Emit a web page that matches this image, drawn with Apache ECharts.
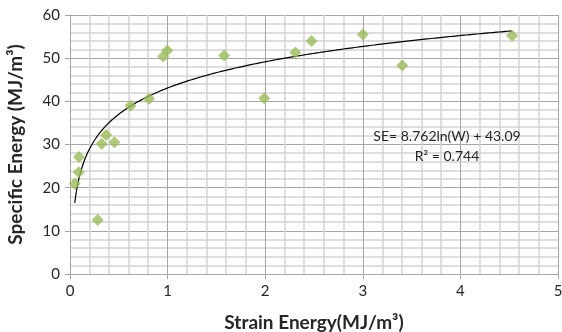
<!DOCTYPE html>
<html>
<head>
<meta charset="utf-8">
<script src="https://cdn.jsdelivr.net/npm/echarts@6/dist/echarts.min.js"></script>
<style>
  html, body { margin: 0; padding: 0; background: #fff; }
  #chart { width: 562px; height: 332px; }
</style>
</head>
<body>
<div id="chart"></div>
<script>
// Measured samples: strain energy W (MJ/m³) vs specific energy SE (MJ/m³)
const strainEnergy = [0.048, 0.089, 0.092, 0.284, 0.325, 0.37, 0.455, 0.62, 0.81, 0.954, 0.998, 1.58, 1.99, 2.31, 2.475, 3.0, 3.405, 4.53];
const specificEnergy = [20.9, 23.6, 27.1, 12.5, 30.2, 32.2, 30.5, 39.0, 40.6, 50.4, 51.8, 50.6, 40.7, 51.3, 54.0, 55.5, 48.3, 55.2];

// Logarithmic fit SE = a·ln(W) + b
const fitCoef = [8.762, 43.09];
const fitR2 = 0.744;

const xTicks = [0, 1, 2, 3, 4, 5];
const yTicks = [0, 10, 20, 30, 40, 50, 60];

const points = strainEnergy.map((w, i) => [w, specificEnergy[i]]);

// Trend curve across the span of the samples
const wMin = Math.min(...strainEnergy);
const wMax = Math.max(...strainEnergy);
const fitLine = [];
const steps = 200;
for (let k = 0; k <= steps; k++) {
  const w = wMin + (wMax - wMin) * k / steps;
  fitLine.push([w, fitCoef[0] * Math.log(w) + fitCoef[1]]);
}

const font = 'Lato, "Liberation Sans", sans-serif';
const majorLine = '#a6a6a6';
const minorLine = '#d3d3d3';

const chart = echarts.init(document.getElementById('chart'), null, { renderer: 'canvas' });
chart.setOption({
  animation: false,
  grid: { left: 70, right: 4, top: 15, bottom: 58, containLabel: false, outerBoundsMode: 'none' },
  xAxis: {
    type: 'value',
    min: xTicks[0], max: xTicks[xTicks.length - 1], interval: 1,
    name: 'Strain Energy(MJ/m³)',
    nameLocation: 'middle', nameGap: 39,
    nameTextStyle: { fontFamily: font, fontWeight: 'bold', fontSize: 19, color: '#262626' },
    axisLine: { show: true, lineStyle: { color: majorLine, width: 1 } },
    axisTick: { show: true, length: 5, lineStyle: { color: majorLine } },
    axisLabel: { fontFamily: font, fontSize: 15, color: '#262626', margin: 10 },
    splitLine: { show: true, lineStyle: { color: majorLine, width: 1 } },
    minorTick: { show: false, splitNumber: 5 },
    minorSplitLine: { show: true, lineStyle: { color: minorLine, width: 1.5 } }
  },
  yAxis: {
    type: 'value',
    min: yTicks[0], max: yTicks[yTicks.length - 1], interval: 10,
    name: 'Specific Energy (MJ/m³)',
    nameLocation: 'middle', nameGap: 45, nameRotate: 90,
    nameTextStyle: { fontFamily: font, fontWeight: 'bold', fontSize: 19, color: '#262626' },
    axisLine: { show: true, lineStyle: { color: majorLine, width: 1 } },
    axisTick: { show: true, length: 5, lineStyle: { color: majorLine } },
    axisLabel: { fontFamily: font, fontSize: 15, color: '#262626', margin: 10 },
    splitLine: { show: true, lineStyle: { color: majorLine, width: 1 } },
    minorTick: { show: false, splitNumber: 5 },
    minorSplitLine: { show: true, lineStyle: { color: minorLine, width: 1.5 } }
  },
  series: [
    {
      type: 'line',
      data: fitLine,
      showSymbol: false,
      smooth: false,
      lineStyle: { color: '#000', width: 1.2 },
      z: 3
    },
    {
      type: 'scatter',
      data: points,
      symbol: 'diamond',
      symbolSize: [12, 12],
      itemStyle: { color: '#9bbb59' },
      z: 4
    }
  ],
  graphic: [
    {
      type: 'text',
      x: 447, y: 146,
      style: {
        text: 'SE= ' + fitCoef[0] + 'ln(W) + ' + fitCoef[1] + '\nR² = ' + fitR2,
        fontFamily: font, fontSize: 14, fill: '#262626',
        align: 'center', verticalAlign: 'middle', lineHeight: 20
      },
      z: 10
    }
  ]
});
</script>
</body>
</html>
